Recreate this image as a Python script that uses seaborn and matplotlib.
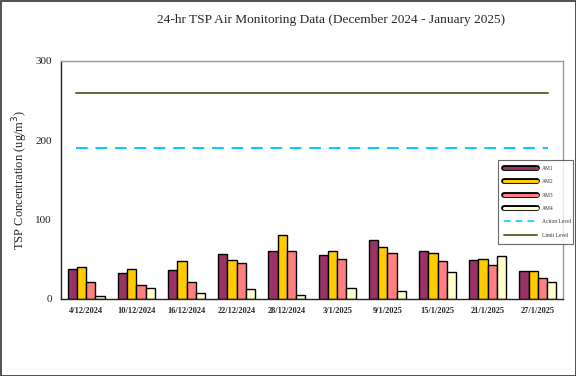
import numpy as np
import pandas as pd
import matplotlib
matplotlib.use("Agg")
import matplotlib.pyplot as plt
import matplotlib.patheffects as pe
from matplotlib.lines import Line2D
from matplotlib.patches import Rectangle
import seaborn as sns

dates = ["4/12/2024", "10/12/2024", "16/12/2024", "22/12/2024", "28/12/2024",
         "3/1/2025", "9/1/2025", "15/1/2025", "21/1/2025", "27/1/2025"]
am1 = [38, 32.5, 37, 57, 60, 56, 74, 61, 49, 35]
am2 = [40, 38, 48, 49, 81, 60, 65, 58.5, 50, 35]
am3 = [21, 18, 21, 45, 61, 50, 58, 48, 42.5, 26]
am4 = [3.5, 13.5, 8, 12.5, 5, 13.5, 10.5, 34, 54, 22]
stations = ["AM1", "AM2", "AM3", "AM4"]
action_level = 190
limit_level = 260
yticks = [0, 100, 200, 300]

colors = ["#993366", "#FFCC00", "#FF8080", "#FFFFCC"]
action_color = "#00CCFF"
limit_color = "#666633"

df = pd.DataFrame({"Date": dates * 4,
                   "Station": sum([[s] * len(dates) for s in stations], []),
                   "Value": am1 + am2 + am3 + am4})

sns.set_style("white")
plt.rcParams["font.family"] = ["Liberation Serif", "DejaVu Serif"]

fig = plt.figure(figsize=(5.76, 3.76), dpi=100)
ax = fig.add_axes([61/576, 1-299/376, 502/576, 238/376])

sns.barplot(data=df, x="Date", y="Value", hue="Station", order=dates,
            hue_order=stations, palette=colors, width=0.74, gap=0,
            edgecolor="black", linewidth=1.0, ax=ax, legend=False, saturation=1)

n = len(dates)
ax.plot([-0.2, n - 0.8], [action_level] * 2, color=action_color, lw=1.4,
        dashes=(6, 4))
ax.plot([-0.2, n - 0.8], [limit_level] * 2, color=limit_color, lw=1.4)

ax.set_xlim(-0.5, n - 0.5)
ax.set_ylim(0, 300)
ax.set_yticks(yticks)
ax.set_yticklabels([str(t) for t in yticks], fontsize=8, color="#222222")
ax.set_xticks(range(n))
ax.set_xticklabels(dates, fontsize=6, fontweight="bold")
ax.set_xticks(np.arange(-0.5, n, 1.0), minor=True)
ax.tick_params(axis="x", which="major", length=0, pad=6)
ax.tick_params(axis="x", which="minor", length=3, width=0.8, direction="out",
               color="#444444")
ax.tick_params(axis="y", which="major", length=3, width=0.8, direction="inout",
               color="#444444", pad=5)
ax.set_xlabel("")
ax.set_ylabel("TSP Concentration (ug/m$^3$)", fontsize=9, labelpad=4)

for s in ["left", "bottom"]:
    ax.spines[s].set_color("#222222")
    ax.spines[s].set_linewidth(1.0)
for s in ["top", "right"]:
    ax.spines[s].set_color("#999999")
    ax.spines[s].set_linewidth(1.0)

fig.text(331/576, 1-19.5/376, "24-hr TSP Air Monitoring Data (December 2024 - January 2025)",
         ha="center", va="center", fontsize=9.6)

handles = []
for c in colors:
    handles.append(Line2D([0], [0], color=c, lw=2.2,
                          path_effects=[pe.Stroke(linewidth=4.2, foreground="black"), pe.Normal()]))
handles.append(Line2D([0], [0], color=action_color, lw=1.2, dashes=(4, 3)))
handles.append(Line2D([0], [0], color=limit_color, lw=1.4))
labels = stations + ["Action Level", "Limit Level"]
leg = fig.legend(handles, labels, loc="upper left",
                 bbox_to_anchor=(498/576, 1-160/376-0.01, 75/576, 0.01), mode="expand",
                 fontsize=4, frameon=True, fancybox=False, edgecolor="#444444",
                 handlelength=6.0, handletextpad=0.8, labelspacing=1.5,
                 borderpad=1.1, borderaxespad=0)
leg.get_frame().set_linewidth(0.8)
for t in leg.get_texts():
    t.set_color("#333333")

fig.add_artist(Rectangle((0.5/576, 0.5/376), 575/576, 375/376, transform=fig.transFigure,
                         fill=False, edgecolor="#333333", lw=1.2))

fig.savefig("out.png", dpi=100)
